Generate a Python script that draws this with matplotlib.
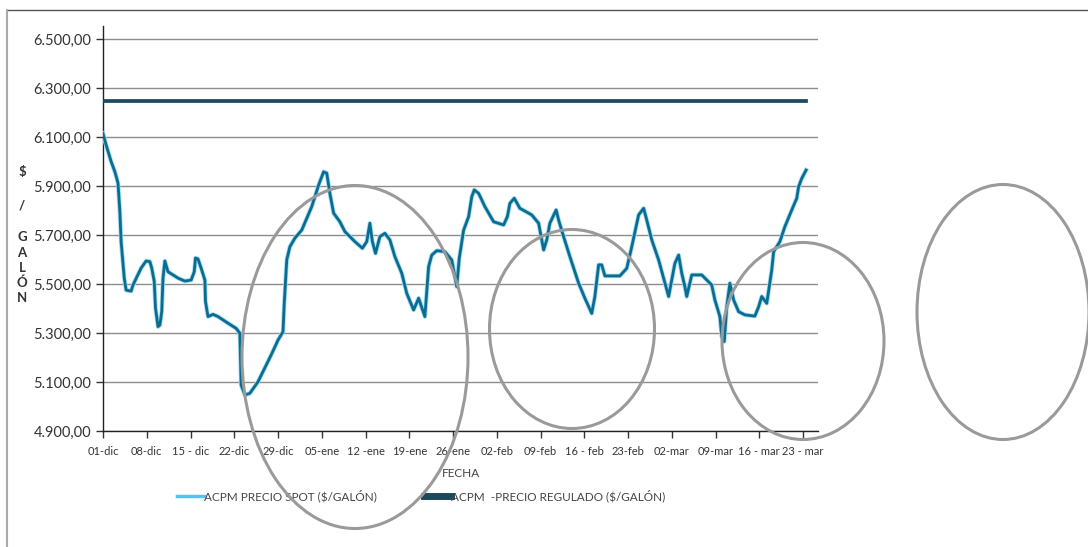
import matplotlib
matplotlib.use("Agg")
import matplotlib.pyplot as plt
from matplotlib.patches import Ellipse
from matplotlib.lines import Line2D

# jours depuis le 01-dic et prix ACPM spot ($/galón)
spot_dias = [0, 0.5, 1.3, 1.9, 2.4, 2.7, 2.9, 3.4, 3.7, 4.5, 4.8, 6.1, 6.9, 7.5, 7.8,
             8.2, 8.4, 8.8, 9.1, 9.4, 9.6, 9.9, 10.4, 12.0, 13.1, 14.1, 14.6, 14.8, 15.2,
             15.7, 16.3, 16.4, 16.8, 17.6, 18.4, 20.0, 21.3, 21.9, 22.0, 22.1, 22.7, 23.5,
             24.8, 26.9, 28.0, 28.8, 29.0, 29.4, 29.9, 30.7, 31.8, 33.4, 34.5, 35.3, 35.8,
             36.3, 36.9, 37.9, 38.7, 40.3, 41.5, 42.2, 42.7, 43.1, 43.6, 44.3, 45.1, 45.9,
             46.7, 47.8, 48.6, 49.7, 50.5, 51.5, 52.1, 52.6, 53.4, 54.7, 55.8, 56.6, 57.0,
             57.7, 58.5, 59.0, 59.4, 60.1, 61.1, 62.5, 64.1, 64.7, 65.1, 65.8, 66.7, 68.6,
             69.7, 70.5, 71.0, 71.5, 72.5, 72.9, 73.7, 74.7, 76.1, 77.1, 78.2, 78.7, 79.3,
             79.8, 80.3, 82.7, 83.8, 84.6, 85.7, 86.5, 87.0, 87.8, 88.9, 89.7, 90.5, 91.0,
             91.5, 92.1, 92.6, 93.1, 93.4, 94.2, 95.8, 97.4, 97.9, 98.7, 99.0, 99.4, 99.8,
             100.3, 100.9, 101.7, 102.7, 104.3, 104.9, 105.4, 106.2, 107.0, 107.3, 108.3,
             109.1, 110.2, 111.0, 111.3, 111.8, 112.5]
spot_precio = [6115, 6067, 6000, 5958, 5912, 5795, 5673, 5524, 5475, 5471, 5496, 5565, 5594,
               5591, 5565, 5510, 5402, 5326, 5333, 5387, 5524, 5594, 5550, 5524, 5512, 5516,
               5550, 5606, 5602, 5565, 5516, 5428, 5367, 5376, 5367, 5340, 5319, 5299, 5198,
               5088, 5047, 5054, 5101, 5210, 5271, 5305, 5421, 5598, 5652, 5687, 5720,
               5816, 5904, 5958, 5952, 5870, 5789, 5754, 5714, 5673, 5646, 5673, 5748, 5673,
               5625, 5693, 5707, 5680, 5612, 5544, 5462, 5394, 5442, 5367, 5571, 5618, 5636,
               5632, 5598, 5489, 5605, 5720, 5775, 5856, 5884, 5870, 5816, 5754, 5741, 5775,
               5829, 5850, 5809, 5782, 5748, 5639, 5680, 5748, 5802, 5761, 5693, 5612, 5503,
               5442, 5380, 5449, 5578, 5578, 5533, 5533, 5564, 5652, 5782, 5809, 5761, 5680,
               5598, 5524, 5449, 5516, 5584, 5618, 5544, 5489, 5449, 5537, 5537, 5496, 5435,
               5367, 5285, 5265, 5407, 5503, 5435, 5387, 5374, 5369, 5407, 5449, 5421, 5557,
               5632, 5673, 5734, 5802, 5850, 5897, 5931, 5965]

# precio regulado (constante)
reg_dias = [0, 112.5]
reg_precio = [6247, 6247]

tick_dias = list(range(0, 113, 7))
tick_labels = ["01-dic", "08-dic", "15 - dic", "22-dic", "29-dic", "05-ene", "12 -ene",
               "19-ene", "26-ene", "02-feb", "09-feb", "16 - feb", "23-feb", "02-mar",
               "09-mar", "16 - mar", "23 - mar"]
y_ticks = [4900, 5100, 5300, 5500, 5700, 5900, 6100, 6300, 6500]

plt.rcParams['font.family'] = ['Lato', 'DejaVu Sans']

W, H = 1088, 547
fig = plt.figure(figsize=(W / 100, H / 100), dpi=100)
ax = fig.add_axes([103 / W, 1 - 431 / H, (818 - 103) / W, (431 - 26) / H])

ax.plot(spot_dias, spot_precio, color="#9edcf3", linewidth=3.2,
        label="ACPM PRECIO SPOT ($/GALÓN)", zorder=3)
ax.plot(spot_dias, spot_precio, color="#0b6b90", linewidth=2.0, zorder=4)
ax.plot(reg_dias, reg_precio, color="#1b4a5c", linewidth=2.7,
        label="ACPM  -PRECIO REGULADO ($/GALÓN)", zorder=4)

ax.set_xlim(0, 114.4)
ax.set_ylim(4900, 6553)
ax.set_yticks(y_ticks)
ax.set_yticklabels([f"{v:,.2f}".replace(",", "X").replace(".", ",").replace("X", ".")
                    for v in y_ticks])
ax.set_xticks(tick_dias)
ax.set_xticklabels(tick_labels)
ax.tick_params(axis="y", labelsize=10.5, colors="#333333", length=5, width=1)
ax.tick_params(axis="x", labelsize=8, colors="#333333", length=5, width=1, pad=6)
ax.grid(axis="y", color="#8c8c8c", linewidth=1)
ax.set_axisbelow(True)
for s in ["top", "right"]:
    ax.spines[s].set_visible(False)
for s in ["left", "bottom"]:
    ax.spines[s].set_color("#222222")
    ax.spines[s].set_linewidth(1)

ax.set_xlabel("FECHA", fontsize=8.5, color="#444444", labelpad=8)

# etiqueta vertical del eje y, letra por letra
letras = ["$", "/", "G", "A", "L", "Ó", "N"]
letras_y = [172, 206, 237, 253, 268, 283, 298]
for l, yy in zip(letras, letras_y):
    fig.text(22 / W, 1 - yy / H, l, fontsize=9.5, fontweight="bold", color="#333333",
             ha="center", va="center")

leg = fig.legend(loc="center left", bbox_to_anchor=(166 / W, 1 - 496 / H), ncol=2,
                 frameon=False, fontsize=8.5, handlelength=2.3, handletextpad=0.0,
                 columnspacing=4.0, labelcolor="#444444")
h_spot, h_reg = leg.legend_handles
h_spot.set_color("#4cc8f0")
h_spot.set_linewidth(2.5)
h_reg.set_linewidth(5)

# elipses de resaltado
for cx, cy, w, h in [(355, 357, 226, 343), (572, 329, 165, 199),
                     (803, 341, 162, 197), (1003, 312, 172, 255)]:
    fig.add_artist(Ellipse((cx / W, 1 - cy / H), w / W, h / H, fill=False,
                           edgecolor="#9a9a9a", linewidth=2.2, transform=fig.transFigure,
                           zorder=10))

# marco de la figura
fig.add_artist(Line2D([7 / W, 1], [1 - 10 / H, 1 - 10 / H], color="#555555",
                      linewidth=1, transform=fig.transFigure))
fig.add_artist(Line2D([7 / W, 7 / W], [0, 1 - 10 / H], color="#aaaaaa",
                      linewidth=1.5, transform=fig.transFigure))

fig.savefig("out.png", dpi=100)
